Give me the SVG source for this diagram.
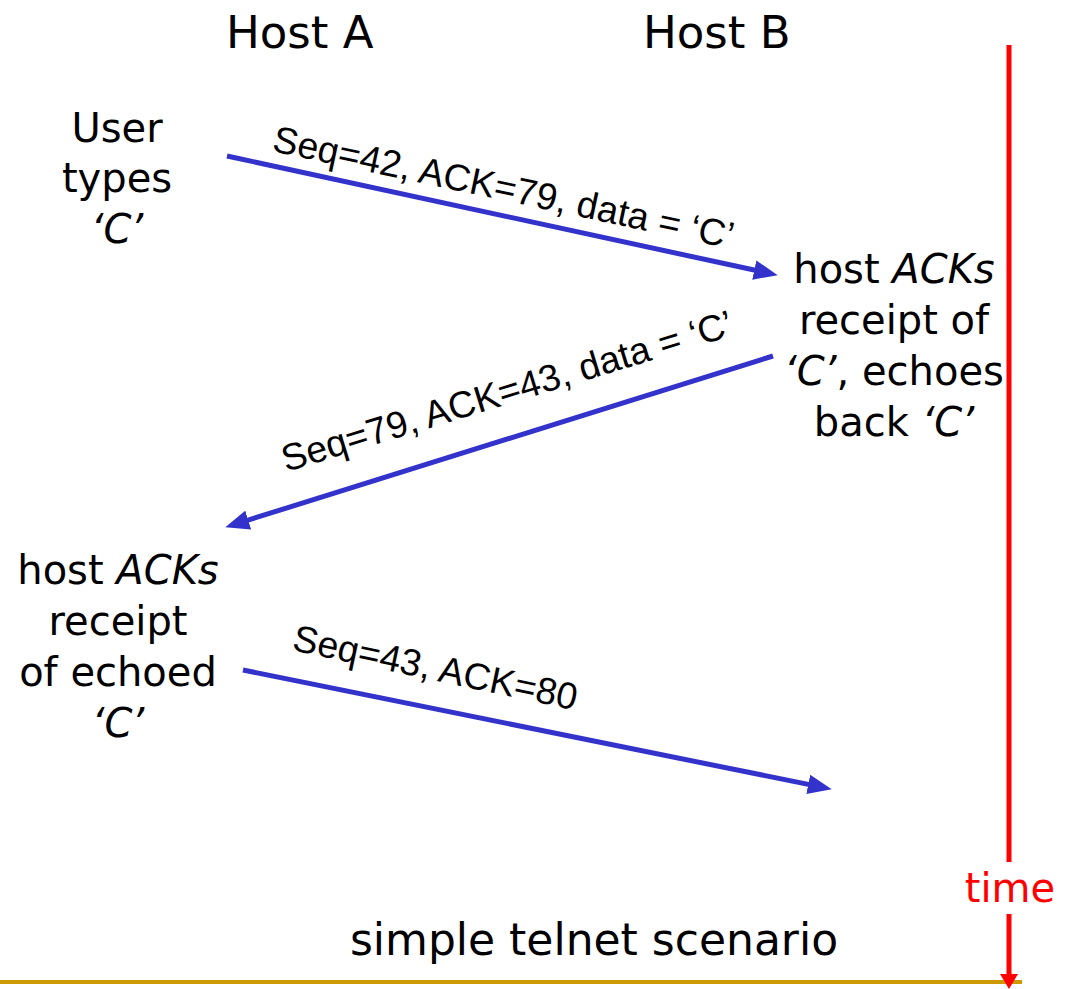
<svg xmlns="http://www.w3.org/2000/svg" width="1071" height="989" viewBox="0 0 1071 989">
<style>
.t{font-family:"DejaVu Sans","Liberation Sans",sans-serif;font-size:40px;fill:#000;text-anchor:middle}
.h{font-family:"DejaVu Sans","Liberation Sans",sans-serif;font-size:45px;fill:#000}
.lab{font-family:"Liberation Sans",Arial,sans-serif;font-size:37.5px;fill:#000}
.i{font-style:italic}
.msg{stroke:#3333CC;stroke-width:5;fill:none;marker-end:url(#ab)}
.time{stroke:#FF0000;stroke-width:5;fill:none}
</style>
<defs>
<marker id="ab" markerUnits="userSpaceOnUse" markerWidth="24" markerHeight="20" viewBox="0 0 22 18" refX="14" refY="9" orient="auto">
<path d="M0,0 L22,9 L0,18 z" fill="#3333CC"/>
</marker>
</defs>
<rect width="1071" height="989" fill="#fff"/>
<g id="hostA"><text class="h" x="226" y="48">Host A</text></g>
<g id="hostB"><text class="h" x="643" y="48">Host B</text></g>
<g id="userTypes">
<text class="t" x="117" y="142">User</text>
<text class="t" x="117" y="192">types</text>
<text class="t" x="117" y="243"><tspan class="i">‘C’</tspan></text>
</g>
<g id="hostBAck">
<text class="t" x="894" y="283">host <tspan class="i">ACKs</tspan></text>
<text class="t" x="894" y="334">receipt of</text>
<text class="t" x="894" y="385"><tspan class="i">‘C’</tspan>, echoes</text>
<text class="t" x="894" y="436">back <tspan class="i">‘C’</tspan></text>
</g>
<g id="hostAAck">
<text class="t" x="118" y="584">host <tspan class="i">ACKs</tspan></text>
<text class="t" x="118" y="635">receipt</text>
<text class="t" x="118" y="686">of echoed</text>
<text class="t" x="118" y="737"><tspan class="i">‘C’</tspan></text>
</g>
<g id="connectors">
<line class="msg" x1="227" y1="156" x2="769.2" y2="273.3"/>
<line class="msg" x1="773" y1="356" x2="233.6" y2="524.6"/>
<line class="msg" x1="243" y1="670" x2="823.2" y2="787.4"/>
<text class="lab" transform="translate(271,151) rotate(12)">Seq=42, ACK=79, data = ‘C’</text>
<text class="lab" transform="translate(286,472) rotate(-17)">Seq=79, ACK=43, data = ‘C’</text>
<text class="lab" transform="translate(291,650) rotate(12)">Seq=43, ACK=80</text>
</g>
<g id="bottom">
<text class="t" x="594" y="955" style="font-size:44px">simple telnet scenario</text>
<line x1="0" y1="982" x2="1022" y2="982" stroke="#CC9900" stroke-width="4"/>
</g>
<g id="timeAxis">
<line class="time" x1="1009" y1="45" x2="1009" y2="862"/>
<line class="time" x1="1009" y1="914" x2="1009" y2="976"/>
<path d="M1000,974 L1018,974 L1009,989 z" fill="#FF0000"/>
<text x="1010" y="902" style="font-family:'DejaVu Sans','Liberation Sans',sans-serif;font-size:40px;fill:#FF0000;text-anchor:middle">time</text>
</g>
</svg>
